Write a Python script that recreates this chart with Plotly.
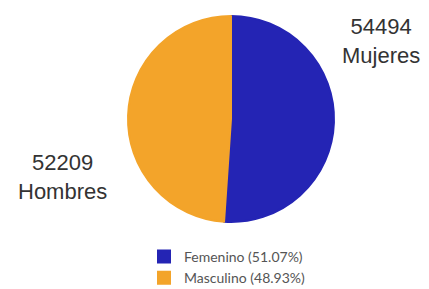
import plotly.graph_objects as go

categories = ["Femenino", "Masculino"]
values = [54494, 52209]
label_names = ["Mujeres", "Hombres"]
colors = ["#2424b4", "#f3a42a"]

total = sum(values)
legend_labels = [f"{c} ({v / total * 100:.2f}%)" for c, v in zip(categories, values)]

W, H = 429, 289

fig = go.Figure(go.Pie(
    labels=legend_labels,
    values=values,
    sort=False,
    direction="clockwise",
    rotation=0,
    textinfo="none",
    hoverinfo="label+value",
    marker=dict(colors=colors, line=dict(width=2, color=colors)),
    domain=dict(x=[120 / W, 326 / W], y=[1 - 214 / H, 1 - 8 / H]),
))

label_font = dict(family="Liberation Sans, Arial, sans-serif", size=22, color="#333333")
fig.add_annotation(x=373 / W, y=1 - 33 / H, xref="paper", yref="paper",
                   xanchor="center", yanchor="middle",
                   text=f"{values[0]}<br>{label_names[0]}", showarrow=False,
                   font=label_font, align="center")
fig.add_annotation(x=55 / W, y=1 - 169 / H, xref="paper", yref="paper",
                   xanchor="center", yanchor="middle",
                   text=f"{values[1]}<br>{label_names[1]}", showarrow=False,
                   font=label_font, align="center")

fig.update_layout(
    width=W, height=H,
    margin=dict(l=0, r=0, t=0, b=0),
    paper_bgcolor="white",
    plot_bgcolor="white",
    showlegend=True,
    legend=dict(x=136 / W, y=1 - 233 / H, xanchor="left", yanchor="top",
                font=dict(family="Lato", size=14, color="#555555"),
                itemwidth=30, tracegroupgap=0),
)

fig.write_html("out.html")
